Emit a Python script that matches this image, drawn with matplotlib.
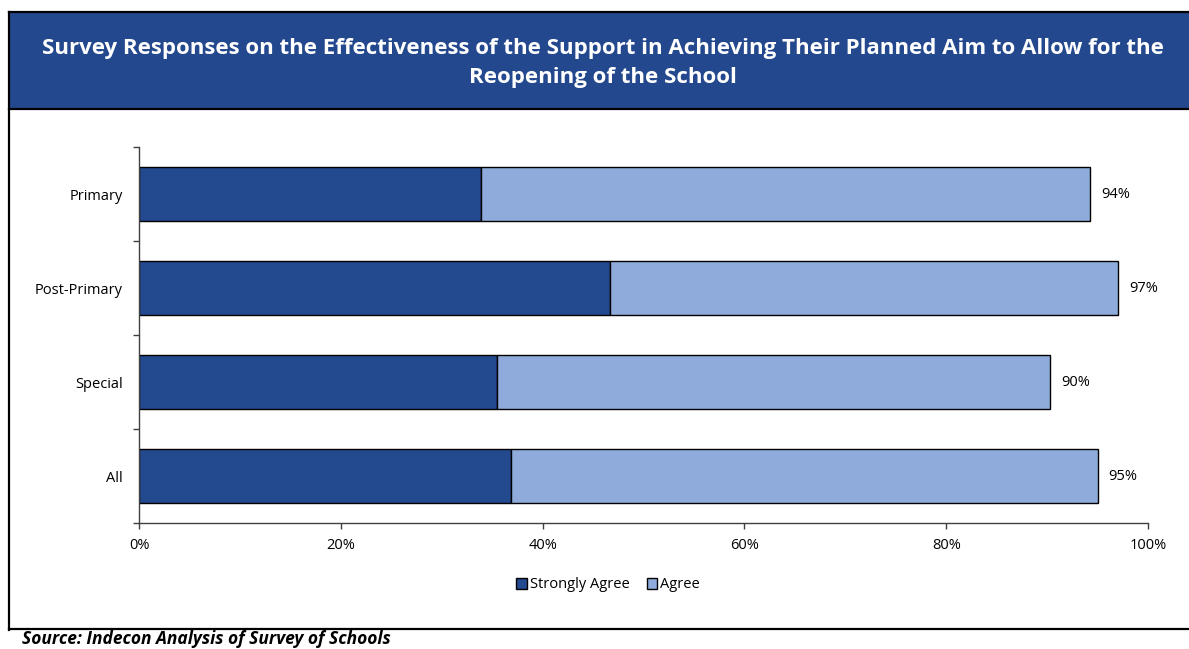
import matplotlib.pyplot as plt
from matplotlib.lines import Line2D
from matplotlib.patches import Rectangle, Patch
from matplotlib.ticker import FixedLocator, FuncFormatter

plt.rcParams['font.family'] = ['Open Sans', 'DejaVu Sans']

# Survey shares (%) by school type
categories = ["Primary", "Post-Primary", "Special", "All"]
strongly_agree = [33.9, 46.7, 35.5, 36.9]
agree = [60.4, 50.3, 54.8, 58.1]
x_ticks = [0, 20, 40, 60, 80, 100]

title = ("Survey Responses on the Effectiveness of the Support in Achieving Their Planned Aim to Allow for the\n"
         "Reopening of the School")
source = "Source: Indecon Analysis of Survey of Schools"

dark_blue = "#234A8F"
light_blue = "#8FABDC"
W, H = 1189, 649

fig = plt.figure(figsize=(W / 100, H / 100), dpi=100)

# header banner and frame
fig.add_artist(Rectangle((9 / W, 1 - 109 / H), 1 - 9 / W, 97 / H, transform=fig.transFigure,
                         facecolor="#23488D", edgecolor="none"))
frame = dict(transform=fig.transFigure, color="black", lw=1.6)
fig.add_artist(Line2D([9 / W, 1], [1 - 12 / H, 1 - 12 / H], **frame))
fig.add_artist(Line2D([9 / W, 1], [1 - 109 / H, 1 - 109 / H], **frame))
fig.add_artist(Line2D([9 / W, 1], [1 - 629 / H, 1 - 629 / H], **frame))
fig.add_artist(Line2D([9 / W, 9 / W], [1 - 12 / H, 1 - 630 / H], **frame))

fig.text(603 / W, 1 - 63 / H, title, ha="center", va="center", color="white",
         fontsize=16, fontweight="bold", linespacing=1.5)
fig.text(22 / W, 1 - 644.5 / H, source, ha="left", va="baseline", fontsize=12.5,
         fontweight="bold", fontstyle="italic")

ax = fig.add_axes([139 / W, 1 - 523 / H, (1148 - 139) / W, (523 - 147) / H])

y = list(range(len(categories)))
ax.barh(y, strongly_agree, height=0.565, color=dark_blue, edgecolor="black", lw=1,
        label="Strongly Agree")
ax.barh(y, agree, left=strongly_agree, height=0.565, color=light_blue, edgecolor="black", lw=1,
        label="Agree")

for yi, s, a in zip(y, strongly_agree, agree):
    total = s + a
    ax.annotate(f"{total:.0f}%", (total, yi), xytext=(8, 0), textcoords="offset points",
                va="center", ha="left", fontsize=10.5)

ax.set_xlim(0, 100)
ax.set_ylim(len(categories) - 0.5, -0.5)

ax.set_xticks(x_ticks)
ax.xaxis.set_major_formatter(FuncFormatter(lambda v, _: f"{v:.0f}%"))
ax.tick_params(axis="x", length=4, width=1, color="#404040", labelsize=10.5, pad=7)

ax.set_yticks(y)
ax.set_yticklabels(categories)
ax.yaxis.set_minor_locator(FixedLocator([i - 0.5 for i in range(len(categories) + 1)]))
ax.tick_params(axis="y", which="major", length=0, labelsize=10.5, pad=11.5)
ax.tick_params(axis="y", which="minor", length=4.5, width=1, color="#404040")

for side in ("top", "right"):
    ax.spines[side].set_visible(False)
for side in ("left", "bottom"):
    ax.spines[side].set_color("#404040")
    ax.spines[side].set_linewidth(1)

handles = [Patch(facecolor=dark_blue, edgecolor="black", label="Strongly Agree"),
           Patch(facecolor=light_blue, edgecolor="black", label="Agree")]
fig.legend(handles=handles, loc="center", bbox_to_anchor=(608 / W, 1 - 585 / H), ncol=2,
           frameon=False, fontsize=10.5, handlelength=0.7, handleheight=0.7,
           handletextpad=0.2, columnspacing=1.2)

fig.savefig("out.png", dpi=100)
